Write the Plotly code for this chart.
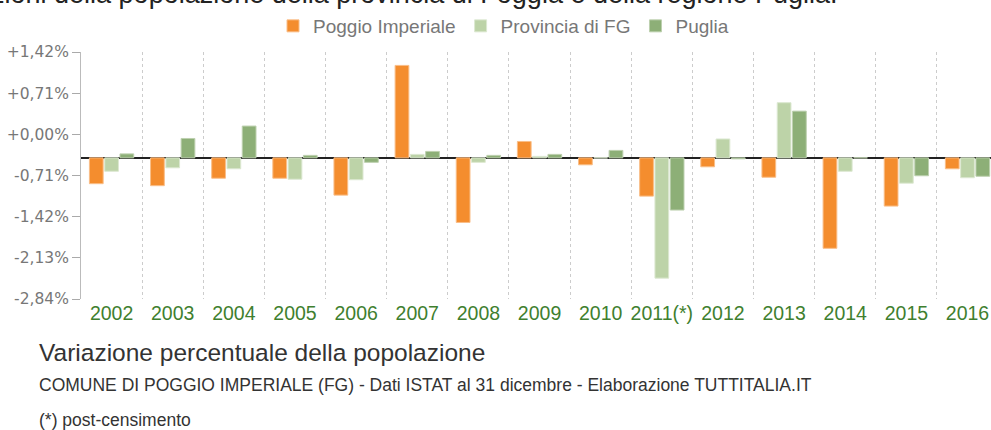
import plotly.graph_objects as go
import numpy as np

years = ["2002", "2003", "2004", "2005", "2006", "2007", "2008", "2009",
         "2010", "2011(*)", "2012", "2013", "2014", "2015", "2016"]
poggio = [-0.52, -0.56, -0.41, -0.41, -0.75, 1.86, -1.30, 0.33,
          -0.14, -0.77, -0.18, -0.39, -1.82, -0.97, -0.22]
provincia = [-0.27, -0.20, -0.22, -0.43, -0.44, 0.07, -0.09, 0.03,
             0.00, -2.42, 0.38, 1.11, -0.27, -0.51, -0.40]
puglia = [0.08, 0.39, 0.64, 0.05, -0.09, 0.13, 0.05, 0.07,
          0.15, -1.05, -0.02, 0.94, 0.00, -0.36, -0.37]

ytick_labels = ["+1,42%", "+0,71%", "+0,00%", "-0,71%", "-1,42%", "-2,13%", "-2,84%"]
grid_step = 0.71
y_min, y_max = -2.84, 2.13

series = [
    ("Poggio Imperiale", poggio, "#F48D2E", "#F9BE88"),
    ("Provincia di FG", provincia, "#BDD3A8", "#DCE8D1"),
    ("Puglia", puglia, "#8DAF77", "#BDD0AF"),
]

fig = go.Figure()
for name, vals, col, edge in series:
    fig.add_trace(go.Bar(
        x=years, y=vals, name=name,
        marker=dict(color=col, line=dict(color=edge, width=1)),
    ))

label_pos = list(np.linspace(y_max, y_min, len(ytick_labels)))
grid_vals = [round(grid_step * k, 2) for k in range(-4, 3)]

fig.update_layout(
    width=991, height=430,
    margin=dict(l=81, r=0, t=52, b=131, autoexpand=False),
    paper_bgcolor="white", plot_bgcolor="white",
    barmode="group", bargap=0.25, bargroupgap=0.1,
    showlegend=True,
    legend=dict(orientation="h", x=0.211, xanchor="left", y=1 + (52 - 7) / 247, yanchor="top",
                font=dict(family="Liberation Sans, Arial", size=19, color="#777777"),
                traceorder="normal", itemclick=False),
    xaxis=dict(
        type="category", range=[-0.5, 14.384],
        tickson="boundaries", showgrid=True, gridcolor="#CCCCCC", griddash="3px,3px",
        ticks="", showline=False, tickangle=0, automargin=False,
        tickfont=dict(family="Liberation Sans, Arial", size=19.5, color="#3F7F2F"),
        fixedrange=True,
    ),
    yaxis=dict(
        range=[y_min, y_max], automargin=False,
        tickmode="array", tickvals=label_pos, ticktext=ytick_labels,
        ticks="outside", ticklen=8, tickcolor="#AAAAAA",
        showgrid=False, showline=True, linecolor="#BBBBBB", linewidth=1,
        zeroline=True, zerolinecolor="#222222", zerolinewidth=2,
        tickfont=dict(family="DejaVu Sans", size=15.5, color="#777777"),
        fixedrange=True,
    ),
    yaxis2=dict(
        range=[y_min, y_max], overlaying="y", side="left", automargin=False,
        tickmode="array", tickvals=grid_vals,
        showticklabels=False, ticks="",
        showgrid=True, gridcolor="#CCCCCC", griddash="3px,3px",
        zeroline=False, showline=False, fixedrange=True,
    ),
)

# title text partially cut at top, and captions below
fig.add_annotation(
    text="Variazioni della popolazione della provincia di Foggia e della regione Puglia.",
    xref="paper", yref="paper", x=(840 - 81) / 910, y=1 + (52 - 11) / 247,
    xanchor="right", yanchor="bottom", showarrow=False,
    font=dict(family="Liberation Sans, Arial", size=27, color="#222222"),
)
fig.add_annotation(
    text="Variazione percentuale della popolazione",
    xref="paper", yref="paper", x=(37 - 81) / 910, y=(299 - 352) / 247,
    xanchor="left", yanchor="middle", showarrow=False,
    font=dict(family="Liberation Sans, Arial", size=24.5, color="#333333"),
)
fig.add_annotation(
    text="COMUNE DI POGGIO IMPERIALE (FG) - Dati ISTAT al 31 dicembre - Elaborazione TUTTITALIA.IT",
    xref="paper", yref="paper", x=(37 - 81) / 910, y=(299 - 385) / 247,
    xanchor="left", yanchor="middle", showarrow=False,
    font=dict(family="Liberation Sans, Arial", size=17.5, color="#333333"),
)
fig.add_annotation(
    text="(*) post-censimento",
    xref="paper", yref="paper", x=(37 - 81) / 910, y=(299 - 420) / 247,
    xanchor="left", yanchor="middle", showarrow=False,
    font=dict(family="Liberation Sans, Arial", size=17.5, color="#333333"),
)

fig.write_html(
    "out.html",
    config={"displayModeBar": False},
    post_script="document.body.style.margin='0';document.body.style.overflow='hidden';",
)
